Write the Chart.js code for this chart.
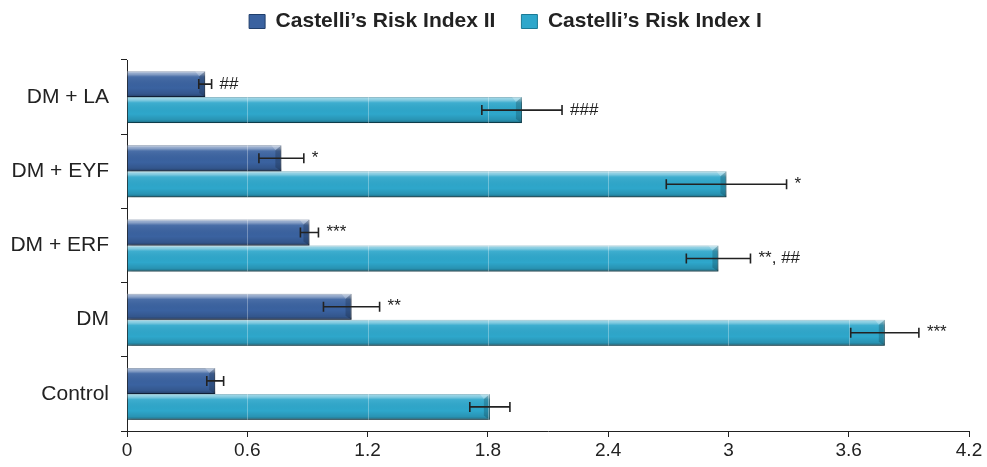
<!DOCTYPE html>
<html>
<head>
<meta charset="utf-8">
<script src="https://cdn.jsdelivr.net/npm/chart.js@4.4.1/dist/chart.umd.min.js"></script>
<style>
  html, body { margin: 0; padding: 0; background: #fff; }
  #wrap { width: 987px; height: 467px; }
</style>
</head>
<body>
<div id="wrap"><canvas id="cri"></canvas></div>
<script>
// Data
const groups = ['DM + LA', 'DM + EYF', 'DM + ERF', 'DM', 'Control'];
const criII = [0.39, 0.77, 0.91, 1.12, 0.44];
const criIIErr = [0.032, 0.112, 0.045, 0.14, 0.042];
const criIIMarks = ['##', '*', '***', '**', ''];
const criI = [1.97, 2.99, 2.95, 3.78, 1.81];
const criIErr = [0.2, 0.3, 0.16, 0.17, 0.1];
const criIMarks = ['###', '*', '**, ##', '***', ''];
const xTicks = [0, 0.6, 1.2, 1.8, 2.4, 3, 3.6, 4.2];

const FONT = '"Liberation Sans", Arial, sans-serif';
const INK = '#222';

// Legend gets a fixed height so the plot starts lower, and sits a bit right of centre
const legendPlace = {
  id: 'legendPlace',
  beforeInit(chart) {
    const fit = chart.legend.fit;
    chart.legend.fit = function() {
      fit.bind(chart.legend)();
      this.height = 75;
    };
  },
  afterLayout(chart) {
    chart.legend.left += 42;
  }
};

// Drop shadow under the bars, then a glossy overlay on top of each one
const barGloss = {
  id: 'barGloss',
  beforeDatasetDraw(chart) {
    const ctx = chart.ctx;
    ctx.save();
    ctx.shadowColor = 'rgba(0,0,0,0.3)';
    ctx.shadowBlur = 4;
    ctx.shadowOffsetY = 3;
    ctx.shadowOffsetX = 1;
  },
  afterDatasetDraw(chart, args) {
    const ctx = chart.ctx;
    ctx.restore();
    args.meta.data.forEach(bar => {
      const { x, y, base, height } = bar.getProps(['x', 'y', 'base', 'height'], true);
      const top = y - height / 2;
      const left = Math.min(base, x), w = Math.abs(x - base);
      const g = ctx.createLinearGradient(0, top, 0, top + height);
      g.addColorStop(0, 'rgba(255,255,255,0.6)');
      g.addColorStop(0.12, 'rgba(255,255,255,0.4)');
      g.addColorStop(0.22, 'rgba(255,255,255,0.08)');
      g.addColorStop(0.65, 'rgba(0,0,0,0)');
      g.addColorStop(0.88, 'rgba(0,0,0,0.12)');
      g.addColorStop(1, 'rgba(0,0,0,0.38)');
      ctx.save();
      ctx.fillStyle = g;
      ctx.fillRect(left, top, w, height);
      // bevelled right end
      ctx.fillStyle = 'rgba(0,0,0,0.18)';
      ctx.beginPath();
      ctx.moveTo(x - 6, top + 5);
      ctx.lineTo(x, top);
      ctx.lineTo(x, top + height);
      ctx.lineTo(x - 6, top + height - 4);
      ctx.closePath();
      ctx.fill();
      ctx.fillStyle = 'rgba(255,255,255,0.25)';
      ctx.beginPath();
      ctx.moveTo(x - 6, top + 5);
      ctx.lineTo(x, top);
      ctx.lineTo(x - 10, top);
      ctx.closePath();
      ctx.fill();
      ctx.restore();
    });
    // faint value lines showing through the bars
    const xs = chart.scales.x;
    ctx.save();
    ctx.strokeStyle = 'rgba(255,255,255,0.3)';
    ctx.lineWidth = 1;
    args.meta.data.forEach(bar => {
      const { x, y, height } = bar.getProps(['x', 'y', 'height'], true);
      xTicks.forEach(t => {
        const px = Math.round(xs.getPixelForValue(t)) + 0.5;
        if (t > 0 && px < x - 1) {
          ctx.beginPath();
          ctx.moveTo(px, y - height / 2);
          ctx.lineTo(px, y + height / 2);
          ctx.stroke();
        }
      });
    });
    ctx.restore();
  }
};

// Error bars with the significance marks beside them
const errorBars = {
  id: 'errorBars',
  afterDraw(chart) {
    const ctx = chart.ctx;
    const xs = chart.scales.x;
    const errs = [criIIErr, criIErr];
    const marks = [criIIMarks, criIMarks];
    ctx.save();
    ctx.strokeStyle = INK;
    ctx.fillStyle = INK;
    ctx.lineWidth = 1.6;
    ctx.font = '17px ' + FONT;
    ctx.textBaseline = 'middle';
    chart.data.datasets.forEach((ds, di) => {
      chart.getDatasetMeta(di).data.forEach((bar, i) => {
        const v = ds.data[i];
        const y = bar.y;
        const x1 = xs.getPixelForValue(v - errs[di][i]);
        const x2 = xs.getPixelForValue(v + errs[di][i]);
        ctx.beginPath();
        ctx.moveTo(x1, y); ctx.lineTo(x2, y);
        ctx.moveTo(x1, y - 5); ctx.lineTo(x1, y + 5);
        ctx.moveTo(x2, y - 5); ctx.lineTo(x2, y + 5);
        ctx.stroke();
        if (marks[di][i]) ctx.fillText(marks[di][i], x2 + 8, y);
      });
    });
    ctx.restore();
  }
};

new Chart(document.getElementById('cri'), {
  type: 'bar',
  data: {
    labels: groups,
    datasets: [
      {
        label: 'Castelli\u2019s Risk Index II',
        data: criII,
        backgroundColor: '#3a62a0',
        borderColor: '#203f6c',
        borderWidth: 1
      },
      {
        label: 'Castelli\u2019s Risk Index I',
        data: criI,
        backgroundColor: '#2ea7cb',
        borderColor: '#1b7a95',
        borderWidth: 1
      }
    ]
  },
  options: {
    indexAxis: 'y',
    responsive: true,
    maintainAspectRatio: false,
    animation: false,
    categoryPercentage: 0.7,
    barPercentage: 1,
    layout: { padding: { left: 0, right: 18, top: -15, bottom: 0 } },
    plugins: {
      tooltip: { enabled: false },
      legend: {
        position: 'top',
        labels: {
          boxWidth: 16,
          boxHeight: 14,
          padding: 26,
          color: INK,
          font: { family: FONT, size: 21, weight: 'bold' }
        }
      }
    },
    scales: {
      x: {
        min: 0,
        max: 4.2,
        afterBuildTicks: s => { s.ticks = xTicks.map(v => ({ value: v })); },
        afterFit: s => { s.height = 36; },
        grid: {
          drawOnChartArea: false,
          tickColor: INK,
          tickLength: 6
        },
        border: { color: INK, width: 1 },
        ticks: {
          color: INK,
          padding: 2,
          font: { family: FONT, size: 19 },
          callback: v => String(Math.round(v * 10) / 10)
        }
      },
      y: {
        afterFit: s => { s.width = 127; },
        grid: {
          offset: true,
          drawOnChartArea: false,
          tickColor: INK,
          tickLength: 6
        },
        border: { color: INK, width: 1 },
        ticks: {
          color: INK,
          padding: 12,
          font: { family: FONT, size: 21 }
        }
      }
    }
  },
  plugins: [legendPlace, barGloss, errorBars]
});
</script>
</body>
</html>
